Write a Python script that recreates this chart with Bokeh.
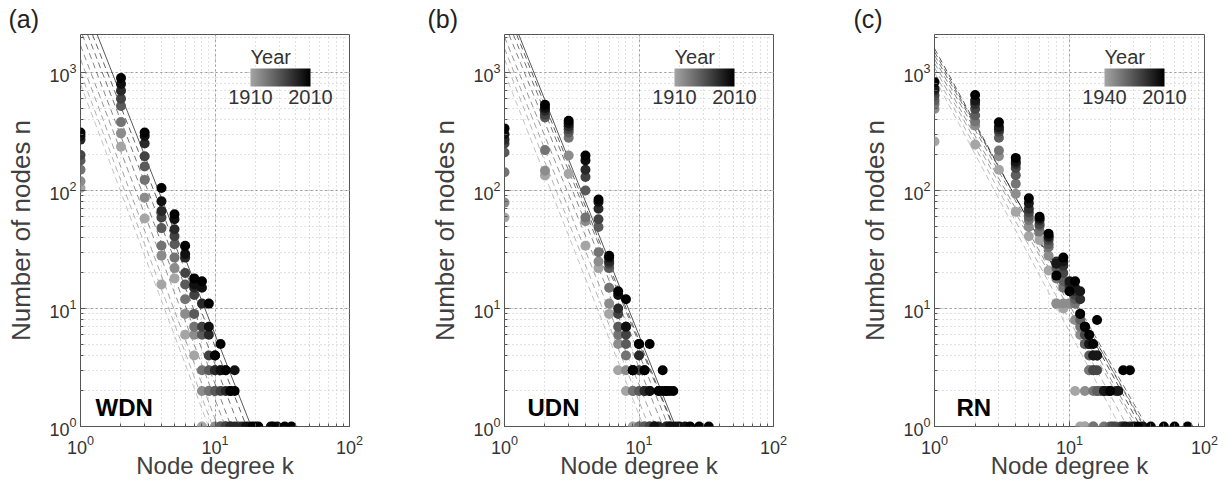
import numpy as np
from bokeh.plotting import figure
from bokeh.models import (LinearColorMapper, ColorBar, FixedTicker, Label,
                          ColumnDataSource, Range1d)
from bokeh.transform import transform
from bokeh.layouts import row
from bokeh.embed import file_html
from bokeh.resources import INLINE

# ---------------- data ----------------
years_ab = [1910, 1925, 1940, 1955, 1970, 1985, 2000, 2010]
years_c = [1940, 1950, 1960, 1970, 1980, 1990, 2000, 2010]

# number of nodes n for degree k = 1, 2, 3, ... ; one row per k, one column per year (0 = none)
wdn_rows = [
    [105, 120, 150, 180, 200, 270, 290, 310],
    [235, 305, 380, 520, 600, 700, 800, 900],
    [58, 87, 123, 160, 195, 250, 290, 310],
    [16, 28, 34, 48, 59, 67, 81, 105],
    [18, 22, 27, 35, 41, 47, 57, 63],
    [6, 9, 12, 16, 20, 27, 29, 34],
    [4, 6, 7, 9, 13, 15, 16, 18],
    [1, 2, 3, 6, 7, 11, 15, 17],
    [0, 2, 2, 3, 4, 6, 7, 11],
    [0, 1, 2, 2, 3, 3, 4, 4],
    [0, 0, 1, 1, 2, 3, 3, 5],
    [0, 0, 0, 1, 1, 2, 3, 3],
    [0, 0, 0, 0, 1, 1, 2, 2],
    [0, 0, 0, 0, 0, 1, 3, 2],
]
wdn_tail = {1955: ([12], [1]), 1970: ([15], [1]), 1985: ([16, 18], [1, 1]),
            2000: ([17, 20, 26, 29], [1, 1, 1, 1]),
            2010: ([19, 21, 27, 33, 37], [1, 1, 1, 1, 1])}

udn_rows = [
    [59, 79, 143, 210, 250, 270, 300, 336],
    [134, 147, 220, 417, 440, 475, 500, 532],
    [139, 198, 280, 310, 330, 350, 370, 390],
    [34, 55, 59, 100, 130, 150, 180, 198],
    [22, 25, 30, 49, 57, 70, 80, 84],
    [9, 11, 15, 22, 24, 25, 27, 28],
    [3, 5, 6, 7, 9, 10, 13, 14],
    [2, 3, 4, 5, 6, 7, 7, 12],
    [1, 2, 2, 3, 3, 3, 3, 3],
    [0, 1, 1, 2, 3, 4, 5, 5],
    [0, 0, 1, 1, 2, 2, 3, 3],
    [0, 0, 0, 1, 1, 2, 2, 5],
    [0, 0, 0, 0, 1, 1, 1, 0],
    [0, 0, 0, 0, 0, 1, 2, 2],
    [0, 0, 0, 0, 0, 2, 2, 3],
    [0, 0, 0, 0, 1, 1, 2, 2],
    [0, 0, 0, 0, 0, 1, 1, 2],
    [0, 0, 0, 0, 0, 0, 1, 2],
]
udn_tail = {1985: ([19], [1]), 2000: ([20, 22], [1, 1]), 2010: ([24, 28, 33], [1, 1, 1])}

rn_rows = [
    [260, 490, 540, 580, 640, 700, 730, 830],
    [245, 355, 384, 433, 490, 540, 580, 646],
    [150, 195, 218, 280, 315, 330, 345, 378],
    [66, 94, 114, 135, 155, 168, 175, 189],
    [41, 49, 56, 60, 65, 70, 78, 86],
    [38, 45, 45, 50, 52, 56, 58, 60],
    [21, 28, 33, 35, 38, 40, 41, 43],
    [11, 11, 18, 22, 24, 25, 24, 19],
    [10, 11, 15, 17, 20, 23, 25, 27],
    [11, 11, 14, 14, 15, 16, 17, 14],
    [2, 8, 11, 12, 13, 14, 15, 17],
    [0, 6, 7, 8, 9, 12, 14, 9],
    [1, 2, 5, 5, 6, 7, 7, 7],
    [0, 3, 3, 4, 5, 5, 5, 6],
    [0, 1, 2, 3, 3, 4, 4, 5],
    [2, 0, 2, 2, 3, 4, 4, 8],
]
rn_tail = {1940: ([12, 13], [1, 1]), 1960: ([15, 18], [1, 1]),
           1970: ([17, 20, 22], [2, 1, 1]), 1980: ([18, 21, 24], [2, 1, 1]),
           1990: ([19, 22, 25, 28], [2, 2, 1, 1]),
           2000: ([18, 20, 23, 26, 30, 35], [2, 2, 2, 1, 1, 1]),
           2010: ([20, 25, 28, 32, 40, 50, 60, 75], [2, 3, 3, 1, 1, 1, 1, 1])}

# power-law fits n = C * k^(-gamma), one per year
wdn_C = [800, 1000, 1300, 1700, 2300, 3000, 3800, 4800]
wdn_gamma = [3.05, 3.05, 3.05, 3.0, 3.0, 2.95, 2.9, 2.9]
udn_C = [1000, 1300, 1600, 2000, 2600, 3200, 3800, 4200]
udn_gamma = [2.9, 2.9, 2.85, 2.8, 2.8, 2.8, 2.85, 2.85]
rn_C = [900, 1000, 1100, 1200, 1300, 1400, 1500, 1600]
rn_gamma = [2.15, 2.1, 2.05, 2.05, 2.0, 2.0, 2.05, 2.1]

FONT = "Liberation Sans"
N_TOP = 2100.0
palette = ["#%02x%02x%02x" % (v, v, v) for v in np.linspace(165, 0, 256).astype(int)]


def make_panel(tag, name, years, rows, tails, Cs, gammas, right_border,
               tag_dx, name_dx, solid_last, frame_w=269):
    p = figure(title=tag, x_axis_type="log", y_axis_type="log",
               x_range=Range1d(1, 100), y_range=Range1d(1, N_TOP),
               frame_width=frame_w, frame_height=392,
               min_border_left=80, min_border_right=right_border,
               min_border_top=34, min_border_bottom=58,
               output_backend="svg", toolbar_location=None)
    p.title.align = "left"
    p.title.offset = tag_dx
    p.title.text_font = FONT
    p.title.text_font_size = "25px"
    p.title.text_font_style = "normal"
    p.title.text_color = "#222222"
    p.title.standoff = 4

    mapper = LinearColorMapper(palette=palette, low=years[0], high=years[-1])

    # fit lines
    for i, (yr, C, g) in enumerate(zip(years, Cs, gammas)):
        k0 = max(1.0, (C / N_TOP) ** (1.0 / g))
        k1 = C ** (1.0 / g)
        idx = int(round((yr - years[0]) / (years[-1] - years[0]) * 255))
        col = palette[idx]
        last = (i == len(years) - 1)
        p.line([k0, k1], [C * k0 ** (-g), C * k1 ** (-g)], line_color=col,
               line_width=1, line_alpha=0.65,
               line_dash="solid" if (last and solid_last) else "6 4")

    # points
    ks, ns, ys = [], [], []
    for j, yr in enumerate(years):
        for i, r in enumerate(rows):
            if r[j] > 0:
                ks.append(i + 1); ns.append(r[j]); ys.append(yr)
        if yr in tails:
            for kk, nn in zip(*tails[yr]):
                ks.append(kk); ns.append(nn); ys.append(yr)
    src = ColumnDataSource(dict(k=ks, n=ns, year=ys))
    p.scatter("k", "n", source=src, size=10, line_color=None,
              fill_color=transform("year", mapper))

    # axes
    for ax in (p.xaxis[0], p.yaxis[0]):
        ax.axis_line_color = None
        ax.major_tick_in = 5
        ax.major_tick_out = 0
        ax.minor_tick_in = 3
        ax.minor_tick_out = 0
        ax.major_tick_line_color = "#555555"
        ax.minor_tick_line_color = "#555555"
        ax.major_label_text_font = FONT
        ax.major_label_text_font_size = "18px"
        ax.major_label_text_color = "#333333"
        ax.axis_label_text_font = FONT
        ax.axis_label_text_font_style = "normal"
        ax.axis_label_text_color = "#404040"
    p.xaxis.axis_label = "Node degree k"
    p.yaxis.axis_label = "Number of nodes n"
    p.xaxis.axis_label_text_font_size = "24px"
    p.yaxis.axis_label_text_font_size = "26px"
    p.xaxis.axis_label_standoff = -5
    p.yaxis.axis_label_standoff = 10
    p.xaxis.major_label_standoff = 8
    p.yaxis.major_label_standoff = 4

    for gr in (p.xgrid[0], p.ygrid[0]):
        gr.grid_line_color = "#9a9a9a"
        gr.grid_line_dash = "2 3"
        gr.minor_grid_line_color = "#c4c4c4"
        gr.minor_grid_line_dash = "1 3"
    p.outline_line_color = "#555555"
    p.outline_line_width = 1
    p.background_fill_color = "white"

    cb = ColorBar(color_mapper=mapper, orientation="horizontal", width=60, height=18,
                  location=(170, 320), title="Year",
                  ticker=FixedTicker(ticks=[years[0], years[-1]]),
                  major_tick_line_color=None, bar_line_color=None,
                  major_label_text_font=FONT, major_label_text_font_size="20px",
                  major_label_text_color="#333333",
                  title_text_font=FONT, title_text_font_size="20px",
                  title_text_font_style="normal", title_text_color="#333333",
                  padding=0, background_fill_alpha=0, border_line_color=None,
                  title_standoff=2, label_standoff=3)
    p.add_layout(cb)

    p.add_layout(Label(x=name_dx, y=6, x_units="screen", y_units="screen",
                       text=name, text_font=FONT, text_font_size="24px",
                       text_font_style="bold", text_color="black"))
    return p


pa = make_panel("(a)", "WDN", years_ab, wdn_rows, wdn_tail, wdn_C, wdn_gamma, 75, -72, 15, True)
pb = make_panel("(b)", "UDN", years_ab, udn_rows, udn_tail, udn_C, udn_gamma, 81, -77, 23, True)
pc = make_panel("(c)", "RN", years_c, rn_rows, rn_tail, rn_C, rn_gamma, 28, -81, 22, False, frame_w=270)

layout = row(pa, pb, pc, spacing=0)
open("out.html", "w").write(file_html(layout, INLINE))
